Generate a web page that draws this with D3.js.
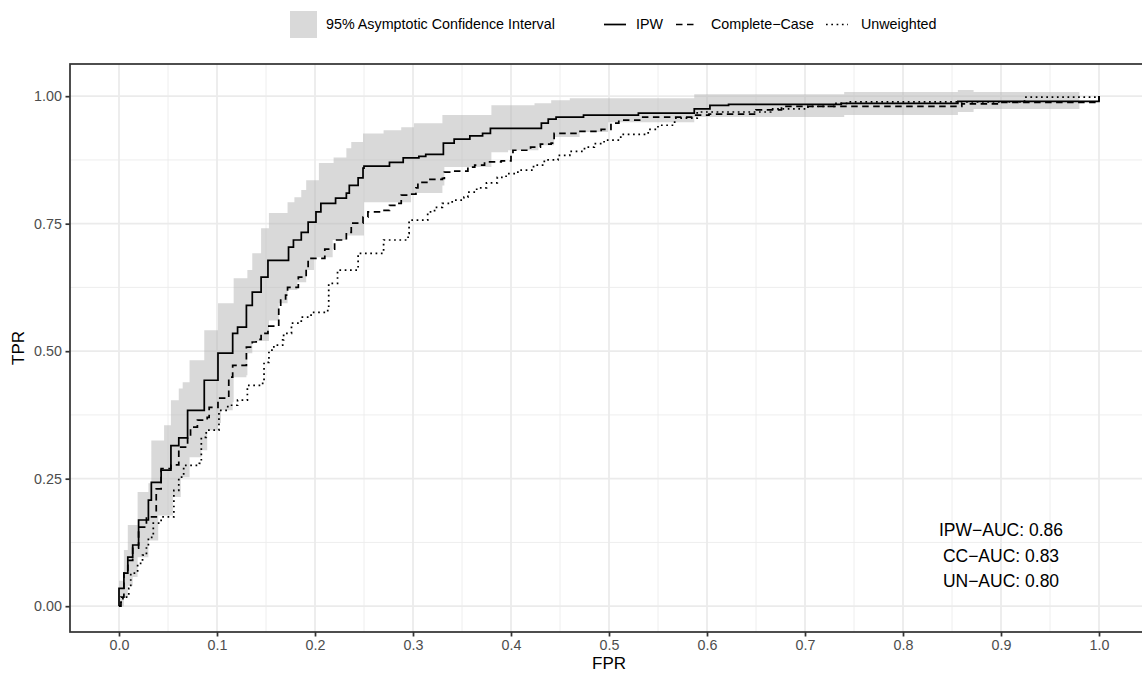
<!DOCTYPE html>
<html>
<head>
<meta charset="utf-8">
<script src="https://cdn.jsdelivr.net/npm/d3@7"></script>
<style>
  body { margin: 0; background: #fff; }
  svg { display: block; font-family: "Liberation Sans", Arial, sans-serif; }
</style>
</head>
<body>
<div id="roc"></div>
<script>
// ROC curves, each pair = [FPR, TPR after the step at that FPR]
const ipwCurve = [
  [0,0],[0,0.035],[0.005,0.065],[0.009,0.096],[0.014,0.12],[0.02,0.169],[0.03,0.208],[0.033,0.243],
  [0.043,0.267],[0.053,0.315],[0.061,0.33],[0.07,0.384],[0.087,0.443],[0.101,0.496],[0.116,0.535],
  [0.121,0.547],[0.13,0.59],[0.136,0.616],[0.145,0.645],[0.152,0.678],[0.173,0.704],[0.178,0.718],
  [0.186,0.733],[0.193,0.753],[0.201,0.773],[0.206,0.79],[0.221,0.8],[0.232,0.81],[0.235,0.825],
  [0.244,0.84],[0.249,0.859],[0.25,0.863],[0.276,0.87],[0.29,0.879],[0.306,0.882],[0.313,0.886],
  [0.331,0.908],[0.342,0.916],[0.358,0.922],[0.371,0.927],[0.379,0.937],[0.431,0.947],[0.438,0.955],
  [0.446,0.959],[0.474,0.963],[0.53,0.967],[0.587,0.975],[0.603,0.982],[0.622,0.984],[0.737,0.986],
  [0.856,0.99],[1.0,0.993],[1.0,1.0]
];
const ccCurve = [
  [0,0],[0.002,0.018],[0.005,0.065],[0.009,0.09],[0.014,0.114],[0.02,0.155],[0.028,0.175],[0.038,0.23],
  [0.043,0.27],[0.053,0.277],[0.061,0.312],[0.07,0.33],[0.073,0.351],[0.08,0.365],[0.09,0.37],
  [0.092,0.39],[0.101,0.408],[0.112,0.449],[0.116,0.472],[0.13,0.508],[0.136,0.518],[0.14,0.523],
  [0.145,0.535],[0.152,0.549],[0.163,0.584],[0.165,0.6],[0.17,0.61],[0.172,0.625],[0.183,0.645],
  [0.191,0.663],[0.193,0.682],[0.21,0.7],[0.22,0.718],[0.232,0.733],[0.237,0.751],[0.249,0.763],
  [0.254,0.773],[0.267,0.776],[0.276,0.786],[0.284,0.79],[0.288,0.806],[0.295,0.808],[0.303,0.82],
  [0.305,0.831],[0.315,0.837],[0.33,0.839],[0.332,0.851],[0.34,0.853],[0.356,0.861],[0.363,0.865],
  [0.373,0.871],[0.39,0.873],[0.4,0.888],[0.402,0.894],[0.42,0.9],[0.43,0.906],[0.441,0.908],
  [0.444,0.927],[0.468,0.931],[0.492,0.935],[0.502,0.947],[0.51,0.953],[0.533,0.959],[0.586,0.963],
  [0.602,0.965],[0.65,0.973],[0.676,0.98],[0.86,0.985],[0.9,0.988],[1.0,0.99],[1.0,1.0]
];
const unCurve = [
  [0,0],[0.001,0.008],[0.004,0.018],[0.01,0.035],[0.012,0.065],[0.019,0.084],[0.024,0.1],[0.028,0.116],
  [0.03,0.135],[0.035,0.163],[0.043,0.175],[0.056,0.227],[0.061,0.253],[0.066,0.276],[0.082,0.28],
  [0.084,0.331],[0.089,0.345],[0.102,0.384],[0.111,0.394],[0.121,0.404],[0.131,0.433],[0.145,0.437],
  [0.148,0.478],[0.153,0.502],[0.158,0.512],[0.167,0.522],[0.168,0.535],[0.176,0.555],[0.186,0.567],
  [0.196,0.576],[0.213,0.586],[0.214,0.633],[0.223,0.659],[0.244,0.692],[0.27,0.718],[0.295,0.731],
  [0.296,0.757],[0.315,0.773],[0.322,0.782],[0.33,0.79],[0.34,0.796],[0.352,0.802],[0.356,0.812],
  [0.365,0.82],[0.375,0.83],[0.386,0.841],[0.395,0.848],[0.407,0.855],[0.423,0.865],[0.434,0.875],
  [0.448,0.884],[0.46,0.892],[0.475,0.9],[0.485,0.907],[0.495,0.914],[0.512,0.925],[0.54,0.935],
  [0.55,0.943],[0.567,0.957],[0.59,0.969],[0.665,0.975],[0.703,0.98],[0.73,0.986],[0.745,0.989],
  [0.924,0.998],[1.0,1.0]
];

// 95% asymptotic CI for IPW: [FPR, lower, upper]
const ciBand = [
  [0,0,0.05],[0.005,0.018,0.11],[0.009,0.04,0.159],[0.014,0.057,0.159],[0.019,0.096,0.224],
  [0.03,0.129,0.241],[0.033,0.129,0.325],[0.04,0.178,0.325],[0.046,0.178,0.355],[0.053,0.178,0.404],
  [0.055,0.214,0.404],[0.061,0.214,0.427],[0.063,0.253,0.427],[0.065,0.253,0.439],[0.072,0.292,0.482],
  [0.084,0.306,0.482],[0.087,0.306,0.541],[0.09,0.345,0.541],[0.101,0.359,0.594],[0.104,0.384,0.594],
  [0.116,0.4,0.594],[0.117,0.449,0.643],[0.13,0.453,0.643],[0.131,0.496,0.659],[0.136,0.52,0.692],
  [0.145,0.52,0.741],[0.153,0.56,0.771],[0.163,0.594,0.771],[0.172,0.62,0.792],[0.179,0.62,0.802],
  [0.182,0.635,0.802],[0.186,0.635,0.816],[0.191,0.659,0.835],[0.199,0.684,0.835],[0.204,0.684,0.869],
  [0.218,0.718,0.869],[0.219,0.718,0.88],[0.232,0.727,0.898],[0.237,0.727,0.91],[0.249,0.727,0.927],
  [0.25,0.792,0.927],[0.27,0.792,0.933],[0.288,0.792,0.939],[0.298,0.81,0.939],[0.301,0.81,0.947],
  [0.33,0.825,0.963],[0.332,0.861,0.963],[0.38,0.89,0.982],[0.397,0.894,0.982],[0.424,0.894,0.986],
  [0.428,0.904,0.986],[0.441,0.904,0.992],[0.444,0.92,0.992],[0.46,0.92,0.996],[0.47,0.93,0.996],
  [0.499,0.949,0.996],[0.587,0.959,1.004],[0.74,0.963,1.008],[0.856,0.969,1.012],[0.872,0.975,1.008],
  [0.98,0.975,1.008]
];

const xTicks = [0, 0.1, 0.2, 0.3, 0.4, 0.5, 0.6, 0.7, 0.8, 0.9, 1.0];
const yTicks = [0, 0.25, 0.5, 0.75, 1.0];
const xMinor = [0.05, 0.15, 0.25, 0.35, 0.45, 0.55, 0.65, 0.75, 0.85, 0.95];
const yMinor = [0.125, 0.375, 0.625, 0.875];
const aucLabels = ["IPW\u2212AUC: 0.86", "CC\u2212AUC: 0.83", "UN\u2212AUC: 0.80"];
const legendLines = [
  {label: "IPW", dash: null},
  {label: "Complete\u2212Case", dash: "6.5,4.5"},
  {label: "Unweighted", dash: "1.7,3.6"}
];

const W = 1142, H = 677;
const panel = {left: 70, top: 64, right: 1148, bottom: 632};

const svg = d3.select("#roc")
  .append("svg")
  .attr("width", W).attr("height", H);

const x = d3.scaleLinear().domain([-0.05, 1.05]).range([panel.left, panel.right]);
const y = d3.scaleLinear().domain([-0.0506, 1.0631]).range([panel.bottom, panel.top]);

svg.append("clipPath").attr("id", "clip")
  .append("rect")
  .attr("x", panel.left).attr("y", panel.top)
  .attr("width", panel.right - panel.left).attr("height", panel.bottom - panel.top);

const plot = svg.append("g").attr("clip-path", "url(#clip)");

// grid
plot.selectAll(".xminor").data(xMinor).join("line")
  .attr("x1", d => x(d)).attr("x2", d => x(d))
  .attr("y1", panel.top).attr("y2", panel.bottom)
  .attr("stroke", "#ebebeb").attr("stroke-width", 0.87);
plot.selectAll(".yminor").data(yMinor).join("line")
  .attr("y1", d => y(d)).attr("y2", d => y(d))
  .attr("x1", panel.left).attr("x2", panel.right)
  .attr("stroke", "#ebebeb").attr("stroke-width", 0.87);
plot.selectAll(".xmajor").data(xTicks).join("line")
  .attr("x1", d => x(d)).attr("x2", d => x(d))
  .attr("y1", panel.top).attr("y2", panel.bottom)
  .attr("stroke", "#ebebeb").attr("stroke-width", 1.73);
plot.selectAll(".ymajor").data(yTicks).join("line")
  .attr("y1", d => y(d)).attr("y2", d => y(d))
  .attr("x1", panel.left).attr("x2", panel.right)
  .attr("stroke", "#ebebeb").attr("stroke-width", 1.73);

// confidence band
plot.append("path")
  .datum(ciBand)
  .attr("fill", "#b3b3b3")
  .attr("fill-opacity", 0.5)
  .attr("d", d3.area()
    .curve(d3.curveStepAfter)
    .x(d => x(d[0]))
    .y0(d => y(d[1]))
    .y1(d => y(d[2])));

// curves
const stepLine = d3.line()
  .curve(d3.curveStepAfter)
  .x(d => x(d[0]))
  .y(d => y(d[1]));

[[unCurve, legendLines[2].dash], [ccCurve, legendLines[1].dash], [ipwCurve, null]].forEach(s => {
  plot.append("path")
    .datum(s[0])
    .attr("fill", "none")
    .attr("stroke", "#000")
    .attr("stroke-width", 1.73)
    .attr("stroke-dasharray", s[1])
    .attr("d", stepLine);
});

// annotation
const ann = svg.append("g")
  .attr("font-size", "17.5px")
  .attr("text-anchor", "middle")
  .attr("fill", "#000");
aucLabels.forEach((t, i) => {
  ann.append("text")
    .attr("x", x(0.9))
    .attr("y", y(0.15) + 6.5 + i * 25.5)
    .text(t);
});

// panel border
svg.append("rect")
  .attr("x", panel.left).attr("y", panel.top)
  .attr("width", panel.right - panel.left).attr("height", panel.bottom - panel.top)
  .attr("fill", "none").attr("stroke", "#333").attr("stroke-width", 1.73);

// axes
const xAxis = svg.append("g")
  .attr("transform", `translate(0,${panel.bottom})`)
  .call(d3.axisBottom(x).tickValues(xTicks).tickFormat(d3.format(".1f")).tickSize(4.5).tickPadding(3.6));
const yAxis = svg.append("g")
  .attr("transform", `translate(${panel.left},0)`)
  .call(d3.axisLeft(y).tickValues(yTicks).tickFormat(d3.format(".2f")).tickSize(4.5).tickPadding(3.6));
[xAxis, yAxis].forEach(a => {
  a.select(".domain").remove();
  a.selectAll(".tick line").attr("stroke", "#333").attr("stroke-width", 1.73);
  a.selectAll(".tick text")
    .attr("fill", "#4d4d4d")
    .style("font-family", "'Liberation Sans', Arial, sans-serif")
    .style("font-size", "14.3px");
});

svg.append("text")
  .attr("x", (panel.left + panel.right) / 2)
  .attr("y", 669)
  .attr("text-anchor", "middle")
  .attr("font-size", "17px")
  .text("FPR");
svg.append("text")
  .attr("transform", `translate(24,${(panel.top + panel.bottom) / 2}) rotate(-90)`)
  .attr("text-anchor", "middle")
  .attr("font-size", "17px")
  .text("TPR");

// legend
const leg = svg.append("g").attr("font-size", "14.3px");
leg.append("rect")
  .attr("x", 290).attr("y", 11).attr("width", 27).attr("height", 27)
  .attr("fill", "#b3b3b3").attr("fill-opacity", 0.5);
leg.append("text").attr("x", 326).attr("y", 29).text("95% Asymptotic Confidence Interval");

const keyX = [604, 676, 826];
const textX = [636, 711, 861];
legendLines.forEach((d, i) => {
  leg.append("line")
    .attr("x1", keyX[i]).attr("x2", keyX[i] + 22)
    .attr("y1", 24.5).attr("y2", 24.5)
    .attr("stroke", "#000").attr("stroke-width", 1.73)
    .attr("stroke-dasharray", d.dash);
  leg.append("text").attr("x", textX[i]).attr("y", 29).text(d.label);
});
</script>
</body>
</html>
